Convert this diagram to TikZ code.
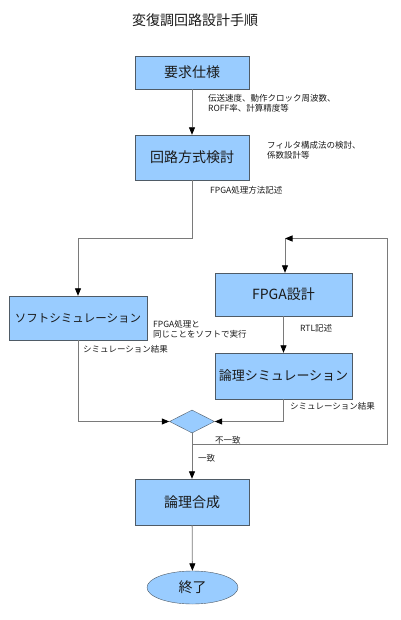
\documentclass[tikz,border=0pt]{standalone}
\usepackage{fontspec}
\setmainfont{Noto Sans CJK JP}
\usetikzlibrary{arrows.meta,shapes.geometric}
\definecolor{boxblue}{HTML}{99CCFF}
\definecolor{edge}{HTML}{4F5B66}
\definecolor{wire}{HTML}{7A7A7A}
\definecolor{ink}{HTML}{1A1A1A}
\begin{document}
\begin{tikzpicture}[x=1pt,y=-1pt,>={Triangle[length=7.5pt,width=6pt,color=black]},
  stage/.style={draw=edge,fill=boxblue,minimum width=114pt,minimum height=45pt,
               inner sep=0pt,font=\fontsize{14}{16}\selectfont,text=ink},
  note/.style={font=\fontsize{8.5}{9.5}\selectfont,text=ink,align=left,anchor=west,inner sep=0pt},
  flow/.style={draw=wire,line width=0.8pt}]
\useasboundingbox (0,0) rectangle (400,620);
\node[font=\fontsize{14}{16}\selectfont,text=ink] (title) at (195,20) {変復調回路設計手順};
\node[stage,minimum height=33pt] (req) at (192,72.5) {要求仕様};
\node[stage] (arch) at (192,157.5) {回路方式検討};
\node[stage,minimum width=138pt,minimum height=44pt,font=\fontsize{11.5}{14}\selectfont] (soft) at (78,318) {ソフトシミュレーション};
\node[stage,minimum width=137pt,minimum height=43pt] (fpga) at (283.5,294.5) {FPGA設計};
\node[stage,minimum width=137pt,minimum height=46pt,font=\fontsize{13}{15}\selectfont] (logic) at (283.5,376) {論理シミュレーション};
\node[diamond,draw=edge,fill=boxblue,aspect=2,minimum width=45pt,minimum height=23pt,inner sep=0pt] (judge) at (192,421.5) {};
\node[stage,minimum height=46pt] (synth) at (192,502) {論理合成};
\node[ellipse,draw=edge,fill=boxblue,minimum width=91pt,minimum height=33pt,inner sep=0pt,
      font=\fontsize{14}{16}\selectfont,text=ink] (done) at (192.5,587.5) {終了};
% notes
\node[note] (specnote) at (208,103.5) {伝送速度、動作クロック周波数、\\ROFF率、計算精度等};
\node[note] (archnote) at (267,150.5) {フィルタ構成法の検討、\\係数設計等};
\node[note] (fpganote) at (210,190) {FPGA処理方法記述};
\node[note] (softnote) at (153,329.5) {FPGA処理と\\同じことをソフトで実行};
\node[note] (softres) at (83,349) {シミュレーション結果};
\node[note] (rtlnote) at (300,328) {RTL記述};
\node[note] (logicres) at (290,406) {シミュレーション結果};
\node[note] (ngnote) at (215,440) {不一致};
\node[note] (oknote) at (198,458) {一致};
% connectors
\coordinate (split) at (192,238.5);
\coordinate (merge) at (285,238.5);
\coordinate (loopc) at (387,238.5);
\coordinate (branch) at (192,444);
\draw[flow,->] (req) -- (arch);
\draw[flow] (arch) -- (split);
\draw[flow,->] (split) -| (soft);
\draw[flow,->] (merge) -- (fpga.north -| merge);
\draw[flow,->] (fpga) -- (logic);
\draw[flow,->] (soft) |- (judge);
\draw[flow,->] (logic) |- (judge);
\draw[flow,->] (branch) -| (loopc) -- (merge);
\draw[flow,->] (judge) -- (synth);
\draw[flow,->] (synth) -- (done);
\end{tikzpicture}
\end{document}
